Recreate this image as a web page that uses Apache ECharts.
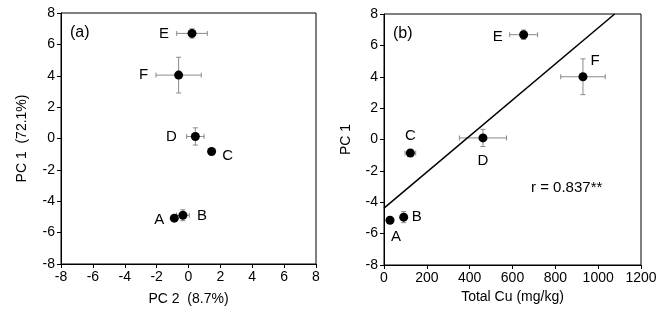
<!DOCTYPE html>
<html>
<head>
<meta charset="utf-8">
<script src="https://cdn.jsdelivr.net/npm/echarts@6/dist/echarts.min.js"></script>
<style>
  html, body { margin: 0; padding: 0; background: #fff; }
  #chart { width: 668px; height: 311px; }
</style>
</head>
<body>
<div id="chart"></div>
<script>
// sample names (same order in both panels)
const names = ['A', 'B', 'C', 'D', 'E', 'F']

// panel (a): PC2 vs PC1
const pc2 = [-0.89, -0.35, 1.45, 0.43, 0.22, -0.62]
const pc2Err = [0.15, 0.4, 0.15, 0.55, 0.96, 1.42]
const pc1 = [-5.08, -4.89, -0.83, 0.13, 6.7, 4.04]
const pc1Err = [0.15, 0.35, 0.15, 0.55, 0.3, 1.14]

// panel (b): total Cu vs PC1
const totalCu = [28, 92, 123, 462, 652, 929]
const totalCuErr = [0, 0, 25, 110, 65, 104]
const pc1b = [-5.15, -4.95, -0.86, 0.1, 6.68, 4.0]
const pc1bErr = [0.1, 0.35, 0.15, 0.55, 0.3, 1.14]

// regression line end points
const fitLine = [[0, -4.37], [1077, 8]]

// label offsets (px) for point names
const offsA = [[-15, 2], [19, 1], [16, 4], [-24, 0], [-28, 0], [-35, 0]]
const offsB = [[6, 17], [13, 0], [0, -17], [0, 23], [-26, 2], [12, -16]]

const font = 'Liberation Sans, Arial, sans-serif'

function errRender(params, api) {
  const x = api.value(0), y = api.value(1), ex = api.value(2), ey = api.value(3)
  const cap = 2.5
  const l = api.coord([x - ex, y]), r = api.coord([x + ex, y])
  const t = api.coord([x, y + ey]), b = api.coord([x, y - ey])
  const st = { stroke: '#8a8a8a', lineWidth: 1 }
  const kids = []
  if (ex > 0) {
    kids.push({ type: 'line', shape: { x1: l[0], y1: l[1], x2: r[0], y2: r[1] }, style: st })
    kids.push({ type: 'line', shape: { x1: l[0], y1: l[1] - cap, x2: l[0], y2: l[1] + cap }, style: st })
    kids.push({ type: 'line', shape: { x1: r[0], y1: r[1] - cap, x2: r[0], y2: r[1] + cap }, style: st })
  }
  if (ey > 0) {
    kids.push({ type: 'line', shape: { x1: t[0], y1: t[1], x2: b[0], y2: b[1] }, style: st })
    kids.push({ type: 'line', shape: { x1: t[0] - cap, y1: t[1], x2: t[0] + cap, y2: t[1] }, style: st })
    kids.push({ type: 'line', shape: { x1: b[0] - cap, y1: b[1], x2: b[0] + cap, y2: b[1] }, style: st })
  }
  return { type: 'group', children: kids }
}

function pointData(xs, ys, offs) {
  return xs.map((x, i) => ({
    value: [x, ys[i]],
    name: names[i],
    label: { offset: offs[i] }
  }))
}

function axisBase() {
  return {
    axisLine: { show: true, onZero: false, lineStyle: { color: '#000', width: 1 } },
    axisTick: { show: true, inside: false, length: 4, lineStyle: { color: '#000' } },
    axisLabel: { color: '#000', fontSize: 14, fontFamily: font, margin: 6, formatter: v => String(v) },
    splitLine: { show: false },
    nameLocation: 'middle',
    nameTextStyle: { color: '#000', fontSize: 14, fontFamily: font }
  }
}

const chart = echarts.init(document.getElementById('chart'))

const scatterLabel = {
  show: true,
  position: 'inside',
  formatter: '{b}',
  color: '#000',
  fontSize: 15,
  fontFamily: font
}

const option = {
  animation: false,
  backgroundColor: '#fff',
  grid: [
    { left: 61, top: 13, width: 255, height: 252, show: true, borderColor: '#000', borderWidth: 1 },
    { left: 384, top: 14, width: 257, height: 251, show: true, borderColor: '#000', borderWidth: 1 }
  ],
  xAxis: [
    Object.assign(axisBase(), { gridIndex: 0, type: 'value', min: -8, max: 8, interval: 2, name: 'PC 2  (8.7%)', nameGap: 28 }),
    Object.assign(axisBase(), { gridIndex: 1, type: 'value', min: 0, max: 1200, interval: 200, name: 'Total Cu (mg/kg)', nameGap: 21 })
  ],
  yAxis: [
    Object.assign(axisBase(), { gridIndex: 0, type: 'value', min: -8, max: 8, interval: 2, name: 'PC 1  (72.1%)', nameGap: 32 }),
    Object.assign(axisBase(), { gridIndex: 1, type: 'value', min: -8, max: 8, interval: 2, name: 'PC 1', nameGap: 31 })
  ],
  series: [
    {
      type: 'custom',
      xAxisIndex: 0, yAxisIndex: 0,
      renderItem: errRender,
      data: pc2.map((x, i) => [x, pc1[i], pc2Err[i], pc1Err[i]]),
      z: 1
    },
    {
      type: 'custom',
      xAxisIndex: 1, yAxisIndex: 1,
      renderItem: errRender,
      data: totalCu.map((x, i) => [x, pc1b[i], totalCuErr[i], pc1bErr[i]]),
      z: 1
    },
    {
      type: 'line',
      xAxisIndex: 1, yAxisIndex: 1,
      data: fitLine,
      showSymbol: false,
      lineStyle: { color: '#000', width: 1.5 },
      z: 2
    },
    {
      type: 'scatter',
      xAxisIndex: 0, yAxisIndex: 0,
      symbolSize: 9,
      itemStyle: { color: '#000', opacity: 1 },
      label: scatterLabel,
      data: pointData(pc2, pc1, offsA),
      z: 3
    },
    {
      type: 'scatter',
      xAxisIndex: 1, yAxisIndex: 1,
      symbolSize: 9,
      itemStyle: { color: '#000', opacity: 1 },
      label: scatterLabel,
      data: pointData(totalCu, pc1b, offsB),
      z: 3
    }
  ],
  graphic: [
    { type: 'text', left: 70, top: 25, style: { text: '(a)', fontSize: 16, fontFamily: font, fill: '#000' } },
    { type: 'text', left: 393, top: 26, style: { text: '(b)', fontSize: 16, fontFamily: font, fill: '#000' } },
    { type: 'text', left: 531, top: 180, style: { text: 'r = 0.837**', fontSize: 15, fontFamily: font, fill: '#000' } }
  ]
}

chart.setOption(option)
</script>
</body>
</html>
